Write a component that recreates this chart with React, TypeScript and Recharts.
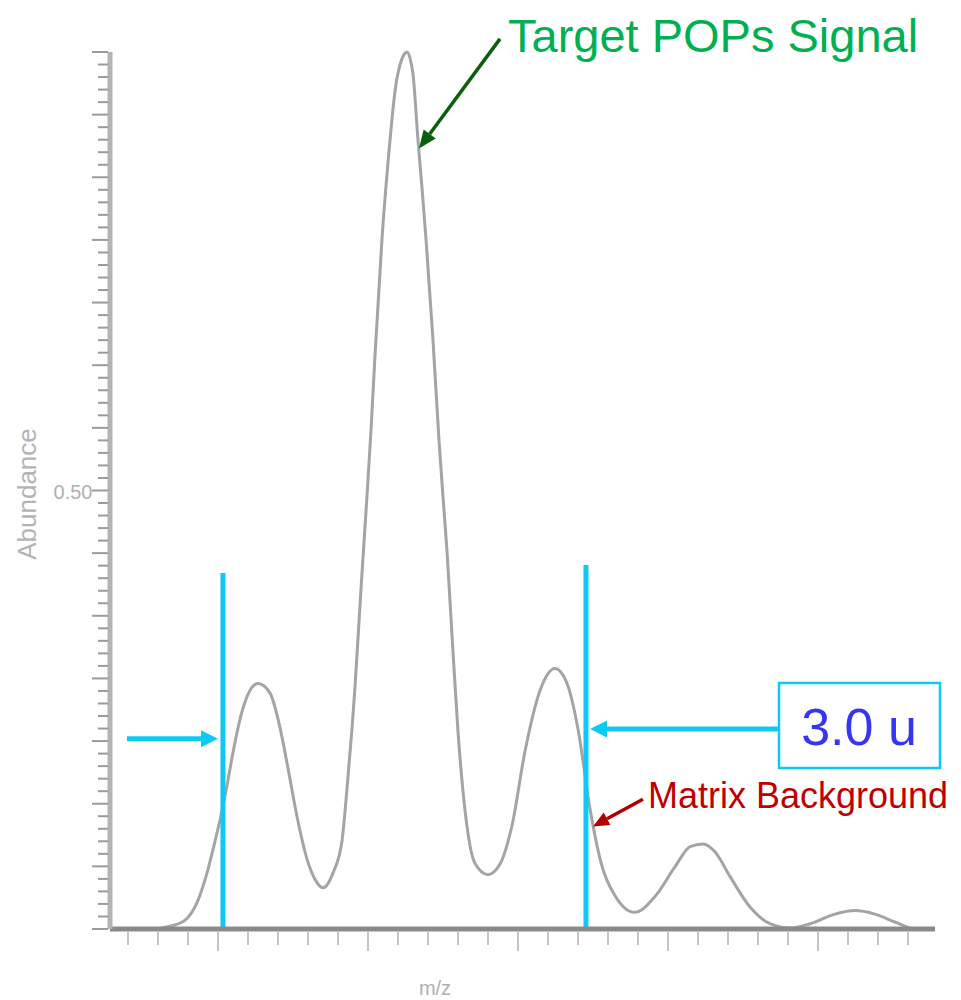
import { LineChart, Line, XAxis, YAxis, ReferenceLine } from "recharts";

// m/z positions and relative abundance
const mz = [
  357.28, 357.547, 357.7, 357.793, 357.86, 357.927, 357.98, 358.033, 358.067, 358.093,
  358.167, 358.213, 358.267, 358.347, 358.413, 358.467, 358.527, 358.593, 358.66, 358.7,
  358.767, 358.827, 358.86, 358.893, 358.913, 358.953, 358.993, 359.02, 359.047, 359.093,
  359.147, 359.173, 359.193, 359.213, 359.24, 359.26, 359.28, 359.3, 359.333, 359.36,
  359.387, 359.433, 359.473, 359.5, 359.527, 359.56, 359.6, 359.647, 359.713, 359.8,
  359.88, 359.96, 360.047, 360.147, 360.247, 360.327, 360.4, 360.48, 360.547, 360.647,
  360.78, 360.913, 361.047, 361.147, 361.233, 361.313, 361.413, 361.547, 361.68, 361.813,
  361.947, 362.113, 362.247, 362.38, 362.513, 362.647, 362.78,
];
const abundance = [
  0, 0, 0.004, 0.012, 0.03, 0.064, 0.1, 0.14, 0.17, 0.195,
  0.252, 0.272, 0.28, 0.269, 0.23, 0.183, 0.128, 0.08, 0.053, 0.047,
  0.064, 0.101, 0.16, 0.228, 0.275, 0.387, 0.493, 0.569, 0.655, 0.786,
  0.9, 0.945, 0.97, 0.985, 0.997, 1.0, 0.993, 0.975, 0.9, 0.845,
  0.786, 0.672, 0.558, 0.493, 0.43, 0.335, 0.225, 0.135, 0.075, 0.062,
  0.074, 0.118, 0.203, 0.272, 0.297, 0.28, 0.228, 0.137, 0.08, 0.038,
  0.019, 0.037, 0.071, 0.094, 0.097, 0.088, 0.06, 0.025, 0.006, 0.001,
  0.006, 0.017, 0.021, 0.017, 0.008, 0, 0,
];

const xTicks = [
  357.4, 357.6, 357.8, 358.0, 358.2, 358.4, 358.6, 358.8, 359.0, 359.2,
  359.4, 359.6, 359.8, 360.0, 360.2, 360.4, 360.6, 360.8, 361.0, 361.2,
  361.4, 361.6, 361.8, 362.0, 362.2, 362.4, 362.6,
];
const yTicks = Array.from({ length: 71 }, (_, i) => i / 70);
const yLabelTick = 0.5;
const yLabelText = "0.50";

// 3.0 u extraction window edges
const windowEdges = [358.033, 360.453];
const windowTops = [0.406, 0.415];

const data = mz.map((m, i) => ({ mz: m, abundance: abundance[i] }));

const CYAN = "#0ccaf2";
const FONT = "'Liberation Sans', Arial, sans-serif";

function arrow(color: string, w: number, head: number, headW: number) {
  return (p: any) => {
    const { x1, y1, x2, y2 } = p;
    const a = Math.atan2(y2 - y1, x2 - x1);
    const c = Math.cos(a);
    const s = Math.sin(a);
    const bx = x2 - head * c;
    const by = y2 - head * s;
    const h = headW / 2;
    return (
      <g>
        <line x1={x1} y1={y1} x2={bx} y2={by} stroke={color} strokeWidth={w} />
        <polygon
          points={`${x2},${y2} ${bx - s * h},${by + c * h} ${bx + s * h},${by - c * h}`}
          fill={color}
        />
      </g>
    );
  };
}

const XTick = (p: any) => {
  const v = p.payload.value;
  const major = Math.abs(v - Math.round(v)) < 1e-6;
  return (
    <line x1={p.x} x2={p.x} y1={p.y + 3} y2={p.y + (major ? 22 : 16)} stroke="#c4c4c4" strokeWidth={2} />
  );
};

const YTick = (p: any) => {
  const v = p.payload.value;
  const major = Math.round(v * 70) % 5 === 0;
  return (
    <g>
      <line x1={p.x - 2} x2={p.x - (major ? 18 : 12)} y1={p.y} y2={p.y} stroke="#9a9a9a" strokeWidth={2} />
      {Math.abs(v - yLabelTick) < 1e-6 && (
        <text x={p.x - 37} y={p.y + 8} textAnchor="middle" fontSize={20} fill="#b0b0b0" fontFamily={FONT}>
          {yLabelText}
        </text>
      )}
    </g>
  );
};

export default function App() {
  return (
    <div style={{ position: "relative", width: 945, height: 990 }}>
      <LineChart width={945} height={990} data={data} margin={{ top: 44, right: 18, bottom: 29, left: 0 }}>
        <XAxis
          dataKey="mz"
          type="number"
          domain={[357.28, 362.78]}
          ticks={xTicks}
          interval={0}
          tickSize={0}
          tickMargin={0}
          tick={XTick}
          tickLine={false}
          axisLine={{ stroke: "#8a8a8a", strokeWidth: 5 }}
          height={40}
        />
        <YAxis
          type="number"
          domain={[0, 1]}
          ticks={yTicks}
          interval={0}
          tickSize={0}
          tickMargin={0}
          tick={YTick}
          tickLine={false}
          axisLine={{ stroke: "#b4b4b4", strokeWidth: 5 }}
          width={102}
        />
        <Line
          dataKey="abundance"
          type="monotone"
          stroke="#a4a4a4"
          strokeWidth={3}
          dot={false}
          isAnimationActive={false}
        />
        {windowEdges.map((x, i) => (
          <ReferenceLine
            key={i}
            segment={[{ x, y: 0 }, { x, y: windowTops[i] }]}
            stroke={CYAN}
            strokeWidth={5}
            ifOverflow="visible"
          />
        ))}
        <ReferenceLine
          segment={[{ x: 357.393, y: 0.217 }, { x: 358.0, y: 0.217 }]}
          ifOverflow="visible"
          shape={arrow(CYAN, 5, 17, 17)}
        />
        <ReferenceLine
          segment={[{ x: 361.733, y: 0.228 }, { x: 360.48, y: 0.228 }]}
          ifOverflow="visible"
          shape={arrow(CYAN, 5, 17, 17)}
        />
        <ReferenceLine
          segment={[{ x: 359.88, y: 1.015 }, { x: 359.34, y: 0.89 }]}
          ifOverflow="visible"
          shape={arrow("#0b5e0b", 3.5, 18, 15)}
        />
        <ReferenceLine
          segment={[{ x: 360.833, y: 0.148 }, { x: 360.5, y: 0.117 }]}
          ifOverflow="visible"
          shape={arrow("#b00000", 3.5, 16, 14)}
        />
      </LineChart>
      <svg
        width={945}
        height={990}
        style={{ position: "absolute", left: 0, top: 0, pointerEvents: "none" }}
        fontFamily={FONT}
      >
        <text x={500} y={44} fontSize={47} fill="#00b050">
          Target POPs Signal
        </text>
        <rect x={771} y={675} width={161} height={85} fill="#fff" stroke={CYAN} strokeWidth={2.5} />
        <text x={851} y={737} fontSize={52} fill="#3636f2" textAnchor="middle">
          3.0 u
        </text>
        <text x={640} y={800} fontSize={36} fill="#c00000">
          Matrix Background
        </text>
        <text
          x={19}
          y={486}
          fontSize={26}
          fill="#b4b4b4"
          textAnchor="middle"
          transform="rotate(-90 19 486)"
          dominantBaseline="central"
        >
          Abundance
        </text>
        <text x={427} y={987} fontSize={20} fill="#b0b0b0" textAnchor="middle">
          m/z
        </text>
      </svg>
    </div>
  );
}
